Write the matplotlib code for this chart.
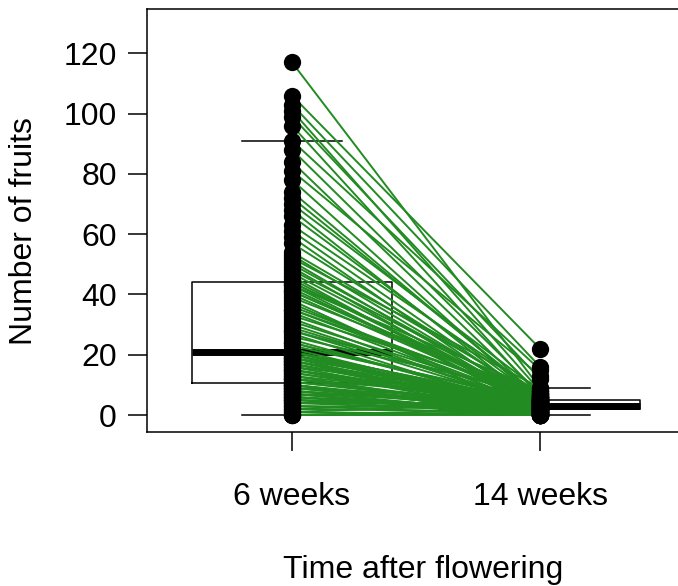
import numpy as np
import matplotlib
matplotlib.use('Agg')
import matplotlib.pyplot as plt

# Fruit counts per plant, same plant order in both lists
week6 = [117, 106, 103, 101, 99, 96, 91, 88, 84, 81, 78, 74, 72, 70, 68,
         66, 63, 61, 59, 57, 54, 53, 52, 51, 50, 49, 48, 47, 46, 45,
         44, 44, 43, 43, 42, 41, 41, 40, 39, 38, 37, 36, 35, 35, 34,
         33, 32, 31, 30, 29, 28, 28, 27, 26, 25, 24, 24, 23, 22, 21,
         21, 21, 21, 21, 20, 20, 20, 19, 19, 19, 18, 18, 18, 17, 17,
         17, 16, 16, 15, 15, 15, 14, 14, 13, 13, 12, 12, 12, 11, 11,
         10, 10, 10, 10, 9, 9, 9, 8, 8, 8, 7, 7, 7, 6, 6,
         6, 5, 5, 5, 4, 4, 3, 3, 2, 2, 1, 1, 0, 0, 0]
week14 = [9, 22, 16, 8, 12, 6, 15, 7, 5, 13, 4, 5, 6, 8, 3,
          5, 7, 4, 2, 5, 6, 4, 9, 3, 5, 2, 6, 4, 1, 3,
          5, 4, 2, 8, 3, 5, 6, 4, 7, 0, 2, 5, 4, 6, 3,
          7, 2, 5, 3, 4, 3, 6, 1, 7, 2, 4, 3, 5, 2, 4,
          1, 2, 0, 4, 3, 1, 2, 0, 5, 4, 2, 4, 0, 1, 2,
          3, 6, 1, 4, 2, 0, 3, 2, 4, 0, 1, 2, 5, 3, 2,
          0, 2, 1, 0, 2, 5, 1, 0, 2, 3, 1, 4, 0, 2, 1,
          0, 3, 2, 0, 1, 4, 2, 0, 1, 5, 0, 4, 2, 1, 0]
groups = ['6 weeks', '14 weeks']
positions = [1, 2]

plt.rcParams['font.family'] = ['Liberation Sans', 'DejaVu Sans']

fig = plt.figure(figsize=(6.78, 5.86), dpi=100)
ax = fig.add_axes([0.2168, 0.2628, 0.7832, 0.7218])

# boxplots underneath everything
ax.boxplot([week6, week14], positions=positions, widths=0.806, whis=1.5,
           showfliers=False, patch_artist=False,
           boxprops=dict(color='black', linewidth=1.1),
           medianprops=dict(color='black', linewidth=5, solid_capstyle='butt'),
           whiskerprops=dict(color='black', linewidth=1.1, linestyle=(0, (4, 4))),
           capprops=dict(color='black', linewidth=1.1),
           zorder=1)

# one line per plant from 6 to 14 weeks
for a, b in zip(week6, week14):
    ax.plot(positions, [a, b], color='#228B22', linewidth=1.4, zorder=2)

ax.scatter([positions[0]] * len(week6), week6, s=155, color='black', zorder=3,
           linewidths=0)
ax.scatter([positions[1]] * len(week14), week14, s=155, color='black', zorder=3,
           linewidths=0)

ax.set_xlim(0.4153, 2.556)
ax.set_ylim(-5.64, 134.7)
ax.set_yticks(np.arange(0, 121, 20))
ax.set_xticks(positions)
ax.set_xticklabels(groups)
ax.tick_params(axis='both', direction='out', length=13.7, width=1.1,
               labelsize=23, color='black')
ax.tick_params(axis='y', pad=8)
ax.tick_params(axis='x', pad=22)
for side in ['left', 'top', 'bottom']:
    ax.spines[side].set_linewidth(1.1)
ax.spines['right'].set_visible(False)

fig.text(24 / 678, 1 - 231 / 586, 'Number of fruits', rotation=90,
         ha='center', va='center', fontsize=23)
fig.text(423 / 678, 1 - 578 / 586, 'Time after flowering',
         ha='center', va='baseline', fontsize=23)

fig.savefig('out.png', dpi=100)
